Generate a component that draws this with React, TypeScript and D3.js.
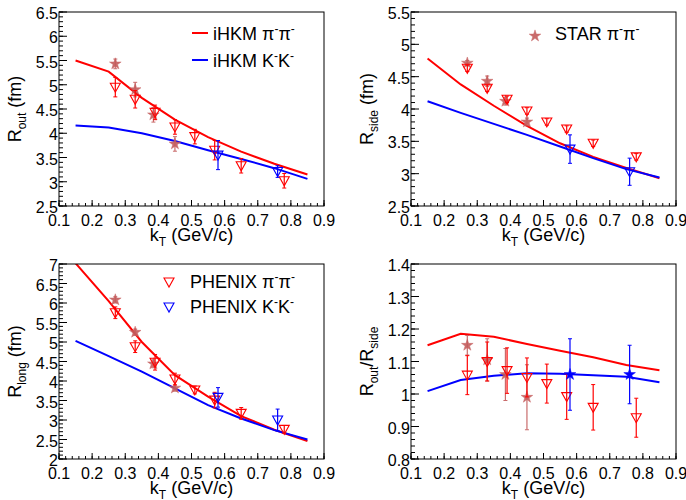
import React from "react";
import * as d3 from "d3";

// ---- model curves (iHKM) ----
const kTModel = [0.15, 0.25, 0.35, 0.45, 0.55, 0.65, 0.75, 0.85];
const iHKMPiOut = [5.5, 5.27, 4.73, 4.28, 3.92, 3.62, 3.37, 3.15];
const iHKMKOut = [4.16, 4.12, 4.0, 3.84, 3.65, 3.47, 3.28, 3.06];
const iHKMPiSide = [4.78, 4.38, 4.05, 3.74, 3.47, 3.26, 3.09, 2.93];
const iHKMKSide = [4.12, 3.94, 3.77, 3.6, 3.42, 3.24, 3.07, 2.94];
const iHKMPiLong = [7.02, 6.05, 5.0, 4.15, 3.6, 3.1, 2.75, 2.46];
const iHKMKLong = [5.03, 4.64, 4.24, 3.81, 3.38, 3.04, 2.74, 2.5];
const iHKMPiRatio = [1.15, 1.185, 1.176, 1.154, 1.133, 1.113, 1.089, 1.073];
const iHKMKRatio = [1.009, 1.043, 1.056, 1.064, 1.062, 1.058, 1.053, 1.036];

// ---- STAR pi-pi- ----
const starKt = [0.27, 0.33, 0.385, 0.45];
const starOut = [5.43, 4.9, 4.38, 3.78];
const starOutErr = [0.1, 0.15, 0.15, 0.15];
const starSide = [4.71, 4.43, 4.12, 3.8];
const starSideErr = [0.04, 0.08, 0.06, 0.06];
const starLong = [6.08, 5.25, 4.44, 3.82];
const starLongErr = [0.08, 0.08, 0.1, 0.08];
const starRatio = [1.15, 1.105, 1.06, 0.99];
const starRatioErr = [0.03, 0.065, 0.08, 0.1];

// ---- PHENIX pi-pi- ----
const phxPiKt = [0.27, 0.33, 0.39, 0.45, 0.51, 0.57, 0.65, 0.78];
const phxPiOut = [4.95, 4.7, 4.43, 4.13, 3.93, 3.65, 3.33, 3.02];
const phxPiOutErr = [0.2, 0.18, 0.15, 0.15, 0.15, 0.2, 0.15, 0.15];
const phxPiSide = [4.63, 4.32, 4.15, 3.97, 3.8, 3.69, 3.47, 3.26];
const phxPiSideErr = [0.05, 0.05, 0.05, 0.05, 0.05, 0.05, 0.05, 0.05];
const phxPiLong = [5.75, 4.88, 4.48, 4.05, 3.77, 3.51, 3.17, 2.76];
const phxPiLongErr = [0.15, 0.15, 0.2, 0.15, 0.1, 0.2, 0.15, 0.1];
const phxPiRatio = [1.058, 1.1, 1.072, 1.051, 1.032, 0.992, 0.959, 0.927];
const phxPiRatioErr = [0.06, 0.06, 0.07, 0.06, 0.06, 0.07, 0.07, 0.06];

// ---- PHENIX K-K- ----
const phxKKt = [0.58, 0.76];
const phxKOut = [3.55, 3.21];
const phxKOutErr = [0.3, 0.12];
const phxKSide = [3.38, 3.03];
const phxKSideErr = [0.22, 0.21];
const phxKLong = [3.58, 3.0];
const phxKLongErr = [0.25, 0.28];
const phxKRatio = [1.06, 1.06];
const phxKRatioErr = [0.11, 0.09];

const RED = "#ff0000";
const BLUE = "#0000ff";
const STARC = "#c45c5c";
const FONT = "'Liberation Sans', Arial, Helvetica, sans-serif";

type Series = { kt: number[]; v: number[]; e: number[]; marker: "star" | "tri"; color: string; opacity?: number };

type PanelCfg = {
  id: string;
  box: { l: number; r: number; t: number; b: number };
  yDomain: [number, number];
  yMajor: number;
  yMinor: number;
  ytitle: React.ReactNode;
  ytitleX: number;
  model: { v: number[]; color: string }[];
  data: Series[];
};

const fmt = (d: number) => String(+d.toFixed(2));

function Marker({ s, x, y }: { s: Series; x: number; y: number }) {
  if (s.marker === "star") {
    const p = d3.symbol(d3.symbolStar).size(42)() as string;
    return <path d={p} transform={`translate(${x},${y})`} fill={s.color} stroke={s.color} strokeWidth={0.5} opacity={s.opacity ?? 1} />;
  }
  const p = `M${x - 5},${y - 4}L${x + 5},${y - 4}L${x},${y + 5}Z`;
  return <path d={p} fill="none" stroke={s.color} strokeWidth={1.1} />;
}

function Panel({ cfg }: { cfg: PanelCfg }) {
  const { box } = cfg;
  const x = d3.scaleLinear().domain([0.1, 0.9]).range([box.l, box.r]);
  const y = d3.scaleLinear().domain(cfg.yDomain).range([box.b, box.t]);
  const xMajor = d3.range(0.1, 0.9001, 0.1);
  const xMinor = d3.range(0.1, 0.9001, 0.02);
  const yMaj = d3.range(cfg.yDomain[0], cfg.yDomain[1] + 1e-6, cfg.yMajor);
  const yMin = d3.range(cfg.yDomain[0], cfg.yDomain[1] + 1e-6, cfg.yMinor);
  const line = d3
    .line<number>()
    .x((_, i) => x(kTModel[i]))
    .y((d) => y(d));
  const cx = (box.l + box.r) / 2;
  const cy = (box.t + box.b) / 2;
  return (
    <g>
      <defs>
        <clipPath id={`clip-${cfg.id}`}>
          <rect x={box.l} y={box.t} width={box.r - box.l} height={box.b - box.t} />
        </clipPath>
      </defs>
      <g clipPath={`url(#clip-${cfg.id})`}>
        {cfg.model.map((m, i) => (
          <path key={i} d={line(m.v) as string} fill="none" stroke={m.color} strokeWidth={2} />
        ))}
        {cfg.data.map((s, si) => (
          <g key={si}>
            {s.kt.map((k, i) => {
              const px = x(k);
              const y0 = y(s.v[i] - s.e[i]);
              const y1 = y(s.v[i] + s.e[i]);
              const col = s.color;
              return (
                <g key={i} opacity={s.opacity ?? 1}>
                  <line x1={px} x2={px} y1={y0} y2={y1} stroke={col} strokeWidth={1.2} />
                  <line x1={px - 2} x2={px + 2} y1={y0} y2={y0} stroke={col} strokeWidth={1} />
                  <line x1={px - 2} x2={px + 2} y1={y1} y2={y1} stroke={col} strokeWidth={1} />
                </g>
              );
            })}
            {s.kt.map((k, i) => (
              <Marker key={"m" + i} s={s} x={x(k)} y={y(s.v[i])} />
            ))}
          </g>
        ))}
      </g>
      <rect x={box.l} y={box.t} width={box.r - box.l} height={box.b - box.t} fill="none" stroke="#000" strokeWidth={1} />
      {xMinor.map((t, i) => (
        <line key={"xm" + i} x1={x(t)} x2={x(t)} y1={box.b} y2={box.b - 3} stroke="#000" />
      ))}
      {xMajor.map((t, i) => (
        <g key={"xM" + i}>
          <line x1={x(t)} x2={x(t)} y1={box.b} y2={box.b - 6} stroke="#000" />
          <text x={x(t)} y={box.b + 20} textAnchor="middle" fontSize={16} fontFamily={FONT}>
            {fmt(t)}
          </text>
        </g>
      ))}
      {yMin.map((t, i) => (
        <line key={"ym" + i} x1={box.l} x2={box.l + 4} y1={y(t)} y2={y(t)} stroke="#000" />
      ))}
      {yMaj.map((t, i) => (
        <g key={"yM" + i}>
          <line x1={box.l} x2={box.l + 8} y1={y(t)} y2={y(t)} stroke="#000" />
          <text x={box.l - 1} y={y(t) + 7} textAnchor="end" fontSize={16} fontFamily={FONT}>
            {fmt(t)}
          </text>
        </g>
      ))}
      <text x={cx} y={box.b + 35} textAnchor="middle" fontSize={18} fontFamily={FONT}>
        k<tspan dy={5} fontSize={12}>T</tspan>
        <tspan dy={-5}> (GeV/c)</tspan>
      </text>
      <text transform={`translate(${cfg.ytitleX},${cy}) rotate(-90)`} textAnchor="middle" fontSize={18} fontFamily={FONT}>
        {cfg.ytitle}
      </text>
    </g>
  );
}

function PairLabel({ base, p }: { base: string; p: string }) {
  return (
    <>
      {base}
      {p}
      <tspan dy={-7} fontSize={12}>-</tspan>
      <tspan dy={7}>{p}</tspan>
      <tspan dy={-7} fontSize={12}>-</tspan>
    </>
  );
}

export default function App() {
  const piStar = { kt: starKt, marker: "star" as const, color: STARC, opacity: 0.9 };
  const phPi = { kt: phxPiKt, marker: "tri" as const, color: RED };
  const phK = { kt: phxKKt, marker: "tri" as const, color: BLUE };
  const panels: PanelCfg[] = [
    {
      id: "out",
      box: { l: 59, r: 324, t: 12, b: 206 },
      yDomain: [2.5, 6.5],
      yMajor: 0.5,
      yMinor: 0.1,
      ytitleX: 21,
      ytitle: (
        <>
          R<tspan dy={5} fontSize={12}>out</tspan>
          <tspan dy={-5}> (fm)</tspan>
        </>
      ),
      model: [
        { v: iHKMPiOut, color: RED },
        { v: iHKMKOut, color: BLUE },
      ],
      data: [
        { ...piStar, v: starOut, e: starOutErr },
        { ...phPi, v: phxPiOut, e: phxPiOutErr },
        { ...phK, v: phxKOut, e: phxKOutErr },
      ],
    },
    {
      id: "side",
      box: { l: 411, r: 676, t: 12, b: 206 },
      yDomain: [2.5, 5.5],
      yMajor: 0.5,
      yMinor: 0.1,
      ytitleX: 373,
      ytitle: (
        <>
          R<tspan dy={5} fontSize={12}>side</tspan>
          <tspan dy={-5}> (fm)</tspan>
        </>
      ),
      model: [
        { v: iHKMPiSide, color: RED },
        { v: iHKMKSide, color: BLUE },
      ],
      data: [
        { ...piStar, v: starSide, e: starSideErr },
        { ...phPi, v: phxPiSide, e: phxPiSideErr },
        { ...phK, v: phxKSide, e: phxKSideErr },
      ],
    },
    {
      id: "long",
      box: { l: 59, r: 324, t: 264, b: 459 },
      yDomain: [2, 7],
      yMajor: 0.5,
      yMinor: 0.1,
      ytitleX: 21,
      ytitle: (
        <>
          R<tspan dy={5} fontSize={12}>long</tspan>
          <tspan dy={-5}> (fm)</tspan>
        </>
      ),
      model: [
        { v: iHKMPiLong, color: RED },
        { v: iHKMKLong, color: BLUE },
      ],
      data: [
        { ...piStar, v: starLong, e: starLongErr },
        { ...phPi, v: phxPiLong, e: phxPiLongErr },
        { ...phK, v: phxKLong, e: phxKLongErr },
      ],
    },
    {
      id: "ratio",
      box: { l: 411, r: 676, t: 264, b: 459 },
      yDomain: [0.8, 1.4],
      yMajor: 0.1,
      yMinor: 0.02,
      ytitleX: 373,
      ytitle: (
        <>
          R<tspan dy={5} fontSize={12}>out</tspan>
          <tspan dy={-5}>/R</tspan>
          <tspan dy={5} fontSize={12}>side</tspan>
        </>
      ),
      model: [
        { v: iHKMPiRatio, color: RED },
        { v: iHKMKRatio, color: BLUE },
      ],
      data: [
        { ...piStar, v: starRatio, e: starRatioErr },
        { ...phPi, v: phxPiRatio, e: phxPiRatioErr },
        { kt: phxKKt, marker: "star", color: BLUE, v: phxKRatio, e: phxKRatioErr },
      ],
    },
  ];
  const starLegend = d3.symbol(d3.symbolStar).size(42)() as string;
  return (
    <svg width={686} height={500} style={{ position: "absolute", left: 0, top: 0, background: "#fff" }}>
      <rect width={686} height={500} fill="#fff" />
      {panels.map((p) => (
        <Panel key={p.id} cfg={p} />
      ))}
      {/* legend panel 1 */}
      <line x1={192} x2={208} y1={33} y2={33} stroke={RED} strokeWidth={2} />
      <text x={213} y={39.5} fontSize={18} fontFamily={FONT}>
        <PairLabel base="iHKM " p="π" />
      </text>
      <line x1={192} x2={208} y1={60} y2={60} stroke={BLUE} strokeWidth={2} />
      <text x={213} y={66.5} fontSize={18} fontFamily={FONT}>
        <PairLabel base="iHKM " p="K" />
      </text>
      {/* legend panel 2 */}
      <path d={starLegend} transform="translate(535,36)" fill={STARC} stroke={STARC} strokeWidth={0.5} opacity={0.9} />
      <text x={555} y={40} fontSize={18} fontFamily={FONT}>
        <PairLabel base="STAR " p="π" />
      </text>
      {/* legend panel 3 */}
      <path d="M164,278L174,278L169,287Z" fill="none" stroke={RED} strokeWidth={1.1} />
      <text x={190} y={288} fontSize={18} fontFamily={FONT}>
        <PairLabel base="PHENIX " p="π" />
      </text>
      <path d="M164,303L174,303L169,312Z" fill="none" stroke={BLUE} strokeWidth={1.1} />
      <text x={190} y={313} fontSize={18} fontFamily={FONT}>
        <PairLabel base="PHENIX " p="K" />
      </text>
    </svg>
  );
}
